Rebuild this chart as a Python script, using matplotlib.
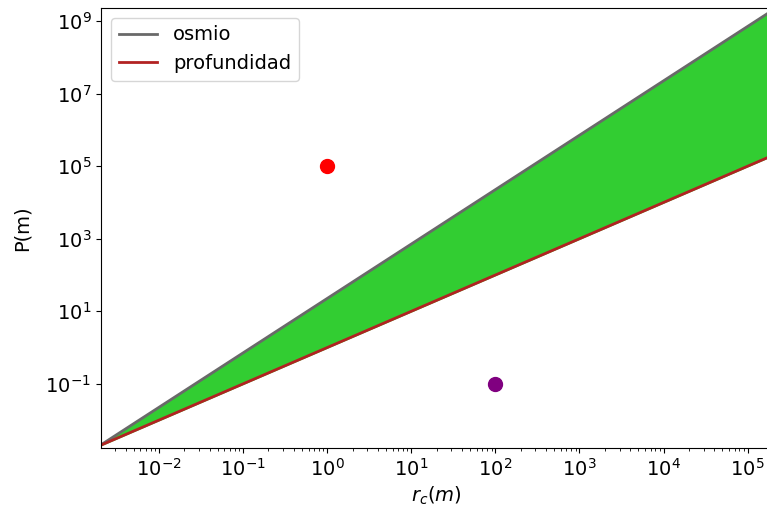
import matplotlib
matplotlib.use("Agg")
import matplotlib.pyplot as plt
from matplotlib.ticker import FixedLocator, LogFormatterSciNotation, NullLocator

# radius range and pressure at each end (straight lines on log-log)
r_c = [1.96e-3, 2.0e5]
p_osmio = [1.96e-3, 2.02e9]
p_profundidad = [1.96e-3, 2.0e5]

# single reference points
red_point = (1.0, 1.0e5)
purple_point = (100.0, 0.1)

# y ticks every other decade
y_ticks = [1e-1, 1e1, 1e3, 1e5, 1e7, 1e9]


def main():
    fig = plt.figure(figsize=(7.67, 5.12), dpi=100)
    ax = fig.add_axes([101 / 767, 64 / 512, 671 / 767, 440 / 512])

    ax.plot(r_c, p_osmio, color="dimgray", lw=2, label="osmio")
    ax.plot(r_c, p_profundidad, color="firebrick", lw=2, label="profundidad")
    ax.fill_between(r_c, p_profundidad, p_osmio, color="limegreen")

    ax.plot(*red_point, "o", color="red", ms=10)
    ax.plot(*purple_point, "o", color="purple", ms=10)

    ax.set_xscale("log")
    ax.set_yscale("log")
    ax.set_xlim(2.04e-3, 1.95e5)
    ax.set_ylim(1.7e-3, 2.3e9)
    ax.yaxis.set_major_locator(FixedLocator(y_ticks))
    ax.yaxis.set_major_formatter(LogFormatterSciNotation())
    ax.yaxis.set_minor_locator(NullLocator())

    ax.set_xlabel(r"$r_c(m)$", fontsize=14)
    ax.set_ylabel("P(m)", fontsize=14, labelpad=10)
    ax.tick_params(labelsize=14)
    ax.legend(loc="upper left", fontsize=14)

    fig.savefig("out.png", dpi=100)
    plt.close(fig)


if __name__ == "__main__":
    main()
